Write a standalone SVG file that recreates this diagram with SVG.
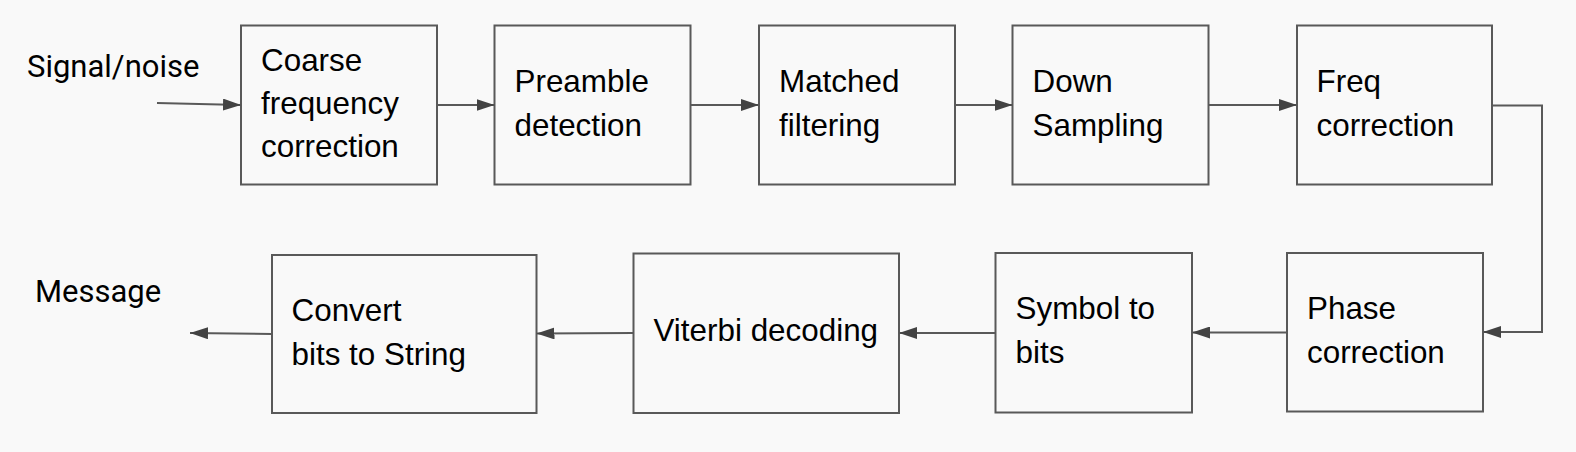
<svg xmlns="http://www.w3.org/2000/svg" width="1576" height="452" viewBox="0 0 1576 452">
<defs>
<style>
.box{fill:#f9f9f9;stroke:#595959;stroke-width:2}
.t{font-family:"Liberation Sans",Arial,sans-serif;font-size:31.4px;fill:#000}
.r{font-family:Roboto,"Liberation Sans",sans-serif;font-size:31px;fill:#000}
.c{fill:none;stroke:#595959;stroke-width:2}
</style>
<marker id="ah" markerUnits="userSpaceOnUse" markerWidth="18" markerHeight="12" refX="18" refY="6" orient="auto">
<path d="M0,0 L18,6 L0,12 z" fill="#434343"/>
</marker>
</defs>
<rect width="1576" height="452" fill="#f9f9f9"/>
<text class="r" x="27" y="77">Signal/noise</text>
<text class="r" x="35" y="302">Message</text>
<g id="n1"><rect class="box" x="241" y="25.5" width="196" height="159"/>
<text class="t" x="261"><tspan x="261" y="71">Coarse</tspan><tspan x="261" y="114">frequency</tspan><tspan x="261" y="157">correction</tspan></text></g>
<g id="n2"><rect class="box" x="494.5" y="25.5" width="196" height="159"/>
<text class="t"><tspan x="514.5" y="92">Preamble</tspan><tspan x="514.5" y="136">detection</tspan></text></g>
<g id="n3"><rect class="box" x="759" y="25.5" width="196" height="159"/>
<text class="t"><tspan x="779" y="92">Matched</tspan><tspan x="779" y="136">filtering</tspan></text></g>
<g id="n4"><rect class="box" x="1012.5" y="25.5" width="196" height="159"/>
<text class="t"><tspan x="1032.5" y="92">Down</tspan><tspan x="1032.5" y="136">Sampling</tspan></text></g>
<g id="n5"><rect class="box" x="1297" y="25.5" width="195" height="159"/>
<text class="t"><tspan x="1316.5" y="92">Freq</tspan><tspan x="1316.5" y="136">correction</tspan></text></g>
<g id="n6"><rect class="box" x="1287" y="253" width="196" height="158.5"/>
<text class="t"><tspan x="1307" y="319">Phase</tspan><tspan x="1307" y="363">correction</tspan></text></g>
<g id="n7"><rect class="box" x="995.5" y="253" width="196.5" height="159.5"/>
<text class="t"><tspan x="1015.5" y="319">Symbol to</tspan><tspan x="1015.5" y="363">bits</tspan></text></g>
<g id="n8"><rect class="box" x="633.5" y="253.5" width="265.5" height="159.5"/>
<text class="t" x="653.5" y="341">Viterbi decoding</text></g>
<g id="n9"><rect class="box" x="272" y="255" width="264.5" height="158"/>
<text class="t"><tspan x="291.5" y="321">Convert</tspan><tspan x="291.5" y="365">bits to String</tspan></text></g>
<g id="connectors">
<path class="c" d="M157,103 L241,105" marker-end="url(#ah)"/>
<path class="c" d="M437,105 L494.5,105" marker-end="url(#ah)"/>
<path class="c" d="M690.5,105 L759,105" marker-end="url(#ah)"/>
<path class="c" d="M955,105 L1012.5,105" marker-end="url(#ah)"/>
<path class="c" d="M1208.5,105 L1297,105" marker-end="url(#ah)"/>
<path class="c" d="M1492,105.5 L1542,105.5 L1542,332 L1483,332" marker-end="url(#ah)"/>
<path class="c" d="M1287,332.5 L1192,332.5" marker-end="url(#ah)"/>
<path class="c" d="M995.5,333 L899,333" marker-end="url(#ah)"/>
<path class="c" d="M633.5,333 L536.5,333.5" marker-end="url(#ah)"/>
<path class="c" d="M272,334 L190,333" marker-end="url(#ah)"/>
</g>
</svg>
